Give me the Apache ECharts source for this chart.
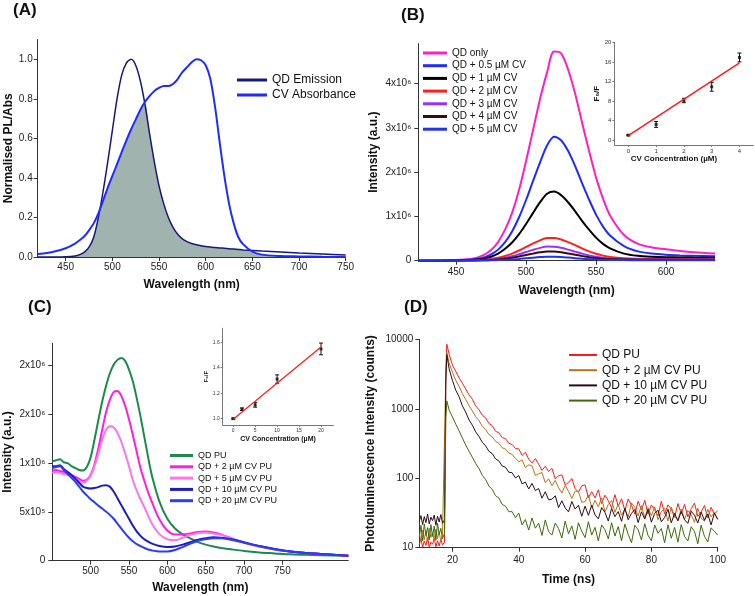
<!DOCTYPE html>
<html>
<head>
<meta charset="utf-8">
<title>QD / CV quenching</title>
<script src="https://cdn.jsdelivr.net/npm/echarts@6/dist/echarts.min.js"></script>
<style>
  html, body { margin: 0; padding: 0; background: #fff; }
  #chart { width: 755px; height: 596px; }
</style>
</head>
<body>
<div id="chart"></div>
<script>
const FONT = "'Liberation Sans', Arial, Helvetica, sans-serif";

// ---- (A) spectral overlap ----
const aWave = [420, 430, 440, 450, 460, 465, 470, 475, 480, 485, 490, 495, 500, 505, 510, 515, 520, 525, 530, 535,
  540, 545, 550, 555, 560, 565, 570, 575, 580, 585, 590, 595, 600, 605, 610, 615, 620, 625, 630, 635,
  640, 650, 660, 680, 700, 725, 750];
const aQdEmission = [0, 0, 0, 0.001, 0.005, 0.012, 0.025, 0.05, 0.1, 0.2, 0.33, 0.48, 0.64, 0.8, 0.92, 0.98, 1.0, 0.97, 0.89, 0.77,
  0.62, 0.48, 0.36, 0.27, 0.2, 0.15, 0.115, 0.092, 0.078, 0.068, 0.062, 0.057, 0.053, 0.05, 0.048, 0.046, 0.044, 0.042, 0.04, 0.038,
  0.036, 0.033, 0.03, 0.025, 0.02, 0.015, 0.01];
const aCvAbsorbance = [0.015, 0.02, 0.03, 0.044, 0.068, 0.085, 0.105, 0.135, 0.17, 0.22, 0.285, 0.35, 0.41, 0.47, 0.53, 0.59, 0.645, 0.695, 0.745, 0.785,
  0.815, 0.84, 0.855, 0.865, 0.865, 0.875, 0.9, 0.935, 0.96, 0.985, 1.0, 0.995, 0.97, 0.9, 0.76, 0.58, 0.41, 0.27, 0.17, 0.1,
  0.065, 0.027, 0.012, 0.005, 0.003, 0.001, 0];
const aTicksX = [450, 500, 550, 600, 650, 700, 750];
const aTicksY = [0, 0.2, 0.4, 0.6, 0.8, 1.0];

// ---- (B) PL titration in solution (values in 10^6) ----
const bWave = [423, 440, 450, 460, 465, 470, 475, 480, 485, 490, 495, 500, 505, 510, 515, 520, 525, 530, 535, 540,
  545, 550, 555, 560, 570, 580, 590, 600, 610, 620, 635];
const bNames = ['QD only', 'QD + 0.5 µM CV', 'QD + 1 µM CV', 'QD + 2 µM CV', 'QD + 3 µM CV', 'QD + 4 µM CV', 'QD + 5 µM CV'];
const bQdOnly = [0, 0.005, 0.015, 0.04, 0.07, 0.13, 0.24, 0.42, 0.7, 1.08, 1.6, 2.25, 2.95, 3.65, 4.25, 4.72, 4.68, 4.32, 3.78, 3.12,
  2.48, 1.88, 1.4, 1.02, 0.58, 0.38, 0.3, 0.26, 0.22, 0.19, 0.16];
const bCv05 = [0, 0.003, 0.008, 0.022, 0.04, 0.075, 0.14, 0.25, 0.42, 0.66, 0.98, 1.37, 1.8, 2.22, 2.6, 2.8, 2.72, 2.48, 2.14, 1.75,
  1.38, 1.04, 0.77, 0.57, 0.33, 0.21, 0.16, 0.135, 0.12, 0.11, 0.1];
const bCv1 = [0, 0.002, 0.005, 0.014, 0.025, 0.047, 0.09, 0.16, 0.27, 0.41, 0.6, 0.83, 1.08, 1.32, 1.51, 1.56, 1.48, 1.32, 1.12, 0.9,
  0.7, 0.52, 0.38, 0.28, 0.16, 0.11, 0.09, 0.08, 0.075, 0.07, 0.065];
const bCv2 = [0, 0.001, 0.002, 0.006, 0.011, 0.02, 0.038, 0.065, 0.105, 0.16, 0.23, 0.31, 0.39, 0.46, 0.51, 0.515, 0.48, 0.42, 0.35, 0.28,
  0.21, 0.155, 0.115, 0.085, 0.055, 0.045, 0.04, 0.038, 0.036, 0.035, 0.034];
const bCv3 = [0, 0.001, 0.002, 0.005, 0.008, 0.014, 0.025, 0.043, 0.068, 0.1, 0.145, 0.195, 0.245, 0.29, 0.318, 0.315, 0.29, 0.25, 0.205, 0.16,
  0.12, 0.088, 0.065, 0.05, 0.035, 0.03, 0.027, 0.025, 0.024, 0.023, 0.022];
const bCv4 = [0, 0.001, 0.002, 0.004, 0.006, 0.01, 0.017, 0.029, 0.045, 0.066, 0.095, 0.128, 0.16, 0.19, 0.208, 0.206, 0.19, 0.165, 0.136, 0.107,
  0.08, 0.06, 0.045, 0.036, 0.027, 0.024, 0.022, 0.021, 0.02, 0.02, 0.019];
const bCv5 = [0, 0, 0.001, 0.002, 0.003, 0.005, 0.008, 0.013, 0.02, 0.029, 0.041, 0.055, 0.069, 0.081, 0.089, 0.088, 0.081, 0.07, 0.058, 0.046,
  0.035, 0.027, 0.021, 0.017, 0.013, 0.012, 0.011, 0.01, 0.01, 0.01, 0.01];
const bTicksX = [450, 500, 550, 600];
const bTicksY = [0, 1, 2, 3, 4];
// Stern-Volmer inset
const bConc = [0, 1, 2, 3, 4];
const bF0F = [1, 3.2, 8.1, 10.9, 16.9];
const bErr = [0.1, 0.6, 0.45, 0.9, 0.9];
const bFitX = [0, 4];
const bFitY = [0.9, 15.8];
const bInsetTicksX = [0, 1, 2, 3, 4];
const bInsetTicksY = [0, 4, 8, 12, 16, 20];

// ---- (C) PL of QD in PU films (values in 10^6) ----
const cWave = [450, 455, 460, 465, 470, 475, 480, 485, 490, 495, 500, 505, 510, 515, 520, 525, 530, 535, 540, 545,
  550, 555, 560, 565, 570, 575, 580, 590, 600, 610, 620, 630, 640, 650, 660, 670, 680, 700, 720, 740,
  760, 780, 800, 836];
const cNames = ['QD PU', 'QD + 2 µM CV PU', 'QD + 5 µM CV PU', 'QD + 10 µM CV PU', 'QD + 20 µM CV PU'];
const cQdPu = [1.02, 1.03, 1.04, 1.01, 1.0, 0.97, 0.95, 0.93, 0.925, 0.96, 1.06, 1.24, 1.44, 1.63, 1.79, 1.92, 2.01, 2.06, 2.08, 2.05,
  1.96, 1.84, 1.67, 1.48, 1.27, 1.06, 0.87, 0.6, 0.43, 0.33, 0.27, 0.23, 0.19, 0.165, 0.145, 0.13, 0.12, 0.1, 0.085, 0.075,
  0.065, 0.06, 0.055, 0.05];
const cCv2 = [0.92, 0.93, 0.92, 0.91, 0.9, 0.88, 0.86, 0.84, 0.82, 0.83, 0.88, 0.99, 1.15, 1.34, 1.52, 1.65, 1.73, 1.74, 1.69, 1.59,
  1.45, 1.29, 1.12, 0.95, 0.82, 0.7, 0.6, 0.42, 0.31, 0.27, 0.27, 0.28, 0.295, 0.3, 0.29, 0.27, 0.24, 0.185, 0.145, 0.115,
  0.095, 0.08, 0.07, 0.05];
const cCv5 = [0.9, 0.91, 0.9, 0.89, 0.88, 0.86, 0.84, 0.82, 0.8, 0.82, 0.87, 0.97, 1.1, 1.24, 1.34, 1.38, 1.37, 1.31, 1.22, 1.1,
  0.97, 0.83, 0.72, 0.63, 0.55, 0.46, 0.38, 0.27, 0.22, 0.21, 0.235, 0.265, 0.285, 0.29, 0.28, 0.265, 0.24, 0.185, 0.145, 0.115,
  0.095, 0.08, 0.07, 0.05];
const cCv10 = [0.97, 0.97, 0.98, 0.94, 0.91, 0.88, 0.84, 0.8, 0.76, 0.745, 0.74, 0.745, 0.755, 0.77, 0.775, 0.76, 0.71, 0.64, 0.57, 0.5,
  0.43, 0.36, 0.3, 0.255, 0.22, 0.195, 0.175, 0.15, 0.14, 0.145, 0.165, 0.19, 0.215, 0.23, 0.24, 0.235, 0.225, 0.19, 0.15, 0.12,
  0.095, 0.08, 0.07, 0.05];
const cCv20 = [0.95, 0.96, 0.97, 0.93, 0.89, 0.85, 0.81, 0.76, 0.71, 0.67, 0.63, 0.6, 0.565, 0.535, 0.505, 0.47, 0.43, 0.38, 0.33, 0.28,
  0.235, 0.2, 0.17, 0.15, 0.13, 0.115, 0.105, 0.095, 0.095, 0.11, 0.14, 0.175, 0.205, 0.22, 0.23, 0.23, 0.22, 0.185, 0.148, 0.118,
  0.095, 0.08, 0.068, 0.05];
const cTicksX = [500, 550, 600, 650, 700, 750];
const cTicksY = [0, 0.5, 1, 1.5, 2];
const cTickLabels = ['0', '5x10⁵', '1x10⁶', '2x10⁶', '2x10⁶'];
// Stern-Volmer inset
const cConc = [0, 2, 5, 10, 20];
const cF0F = [1.0, 1.074, 1.108, 1.311, 1.548];
const cErr = [0.005, 0.01, 0.018, 0.033, 0.046];
const cFitX = [0, 20];
const cFitY = [0.995, 1.563];
const cInsetTicksX = [0, 5, 10, 15, 20];
const cInsetTicksY = [1.0, 1.2, 1.4, 1.6];

// ---- (D) PL decay (counts) ----
const dTime = [10, 10.5, 11, 11.5, 12, 12.5, 13, 13.5, 14, 14.5, 15, 15.5, 16, 16.5, 17, 17.6, 18, 18.3,
  19, 20, 21, 22, 23, 24, 25, 26, 27, 28,
  29, 30, 31, 32, 33, 34, 35, 36, 37, 38,
  39, 40, 41, 42, 43, 44, 45, 46, 47, 48,
  49, 50, 51, 52, 53, 54, 55, 56, 57, 58,
  59, 60, 61, 62, 63, 64, 65, 66, 67, 68,
  69, 70, 71, 72, 73, 74, 75, 76, 77, 78,
  79, 80, 81, 82, 83, 84, 85, 86, 87, 88,
  89, 90, 91, 92, 93, 94, 95, 96, 97, 98,
  99, 100];
const dNames = ['QD PU', 'QD + 2 µM CV PU', 'QD + 10 µM CV PU', 'QD + 20 µM CV PU'];
const dQdPu = [11, 13.5, 10.2, 12.5, 10.8, 14, 10.1, 12, 11.2, 13.8, 10.3, 12.6, 10.6, 13.2, 11, 12, 3500, 8500,
  6100, 4250, 3450, 2780, 2330, 1920, 1590, 1370, 1100, 970,
  810, 740, 615, 570, 475, 450, 385, 372, 318, 306,
  268, 265, 213, 237, 188, 166, 192, 159, 130, 149,
  125, 139, 98, 108, 112, 80, 87, 99, 71, 63,
  78, 80, 52, 64, 52, 68, 43, 57, 47.5, 37.5,
  58, 39.6, 50.6, 34.4, 50.4, 41, 30.4, 46.6, 35.1, 48.1,
  30.4, 41.3, 35.2, 28.7, 46.7, 30.8, 41.4, 35.8, 27.4, 43.2,
  31, 42, 27.8, 36.4, 43.9, 28.3, 32.7, 40.5, 26.7, 38.2,
  30.6, 34];
const dCv2 = [16, 12.5, 18, 13, 17.5, 12, 19, 14, 16.5, 12.8, 18.5, 13.5, 17, 12.2, 15.5, 15, 3000, 6500,
  4550, 3350, 2560, 2100, 1650, 1360, 1110, 930, 770, 675,
  560, 505, 425, 395, 340, 318, 275, 262, 230, 221,
  192, 172, 184, 142, 156, 151, 110, 116, 121, 86,
  98, 78, 93, 73, 61, 79, 65, 51, 65, 65,
  45, 46, 57.6, 37.7, 48, 38.7, 52, 32.8, 42, 47.6,
  32.3, 42.6, 29.2, 36, 27.7, 44.1, 38, 28.6, 40.2, 27.1,
  37.4, 28.8, 38.8, 25.3, 33, 36.8, 24.2, 38.5, 28.2, 25.2,
  36.2, 25.5, 34.4, 29.8, 23.2, 37, 26.6, 24.1, 35.7, 27.7,
  32, 25.5];
const dCv10 = [24, 29, 21.5, 28, 23, 30.5, 22, 27.5, 24.5, 29.5, 21, 28.5, 23.5, 30, 22.5, 25, 2500, 6000,
  3750, 2550, 1850, 1490, 1100, 895, 690, 580, 465, 400,
  330, 292, 244, 226, 190, 178, 150, 144, 122, 120,
  101, 109, 83, 88, 70, 84, 66.5, 71, 51.6, 64,
  48.8, 50, 56, 37.8, 47.3, 37.4, 32.8, 46.2, 36, 40.9,
  28.4, 39.7, 29.2, 40.9, 29.7, 26, 37.8, 32.1, 24.2, 36.8,
  28, 33.1, 24, 37.1, 25.3, 31.2, 35.5, 23, 32.9, 25.8,
  35.6, 23.3, 31.3, 34.7, 23.6, 27.3, 35.8, 22.8, 31.2, 24.3,
  33.3, 25.3, 22.4, 33.5, 29.2, 22.7, 32.6, 24.8, 30.7, 21.3,
  31.3, 25.7];
const dCv20 = [14, 21, 12.5, 22, 15, 19.5, 13, 21.5, 14.5, 20.5, 12.8, 22.5, 15.5, 19, 13.5, 16, 700, 1300,
  960, 760, 600, 480, 380, 300, 245, 200, 163, 138,
  110, 96, 77, 69, 56, 52, 42, 39.5, 33, 33,
  27, 31.6, 21.2, 25.5, 17.9, 26.8, 19.1, 22.6, 15, 25.1,
  17, 15.2, 22.7, 18.8, 13.8, 24.2, 15.9, 20.6, 13.2, 22.8,
  17.2, 14, 23.7, 15.2, 19.6, 12.5, 21.3, 18.1, 13.4, 22.9,
  14.7, 20.1, 12.6, 21.9, 15.6, 11.8, 21, 18.1, 12.9, 22.2,
  15, 12.6, 21.2, 16.1, 18.9, 11.8, 21.4, 13.7, 19.6, 12,
  21.5, 14.5, 12.5, 20, 17.2, 11.4, 21.1, 14.6, 12.1, 19.3,
  17.3, 15.2];
const dTicksX = [20, 40, 60, 80, 100];

// colours
const aColors = ['#16187a', '#1f2cff'];
const bColors = ['#ff1fc4', '#1f2bff', '#000000', '#ff1f1f', '#9a30ff', '#3b0c0c', '#2233ee'];
const cColors = ['#1b8a4c', '#ff1ee0', '#ff72f0', '#1c1cc0', '#2a3cff'];
const dColors = ['#ff1a1a', '#b8731a', '#2e0b16', '#3f6a0c'];

function pairs(xs, ys) {
  return xs.map((x, i) => [x, ys[i]]);
}

function valueAxis(o) {
  const c = o.color || '#333';
  return {
    type: o.type || 'value', gridIndex: o.grid, min: o.min, max: o.max,
    logBase: o.logBase,
    axisLine: { show: true, onZero: false, lineStyle: { color: c, width: 1 } },
    axisTick: { show: true, length: o.tick || 4, customValues: o.ticks, lineStyle: { color: c } },
    axisLabel: {
      customValues: o.ticks, fontSize: o.size || 10, color: o.labelColor || '#222', fontFamily: FONT,
      margin: o.margin || 5, formatter: o.fmt
    },
    splitLine: { show: false },
    name: o.name, nameLocation: 'middle', nameGap: o.nameGap,
    nameTextStyle: { fontSize: o.nameSize || 12, fontWeight: 'bold', color: '#111', fontFamily: FONT, padding: o.namePad || 0 }
  };
}

function line(name, xIdx, xs, ys, color, width, smooth) {
  return {
    type: 'line', name: name, xAxisIndex: xIdx, yAxisIndex: xIdx,
    data: pairs(xs, ys), showSymbol: false, smooth: smooth,
    lineStyle: { color: color, width: width }, itemStyle: { color: color },
    emphasis: { disabled: true }
  };
}

function errorBars(idx, xs, ys, err) {
  return {
    type: 'custom', xAxisIndex: idx, yAxisIndex: idx,
    data: xs.map((x, i) => [x, ys[i] - err[i], ys[i] + err[i]]),
    encode: { x: 0, y: [1, 2] },
    renderItem: function (params, api) {
      const lo = api.coord([api.value(0), api.value(1)]);
      const hi = api.coord([api.value(0), api.value(2)]);
      const st = { stroke: '#111', lineWidth: 1 };
      return {
        type: 'group', children: [
          { type: 'line', shape: { x1: lo[0], y1: lo[1], x2: hi[0], y2: hi[1] }, style: st },
          { type: 'line', shape: { x1: lo[0] - 2, y1: lo[1], x2: lo[0] + 2, y2: lo[1] }, style: st },
          { type: 'line', shape: { x1: hi[0] - 2, y1: hi[1], x2: hi[0] + 2, y2: hi[1] }, style: st }
        ]
      };
    }
  };
}

function points(idx, xs, ys) {
  return {
    type: 'scatter', xAxisIndex: idx, yAxisIndex: idx, data: pairs(xs, ys),
    symbol: 'rect', symbolSize: 3, itemStyle: { color: '#111' }
  };
}

function legendBlock(names, colors, left, top, size, gap, w, h) {
  return {
    orient: 'vertical', left: left, top: top, padding: 0, itemGap: gap,
    itemWidth: w, itemHeight: h, icon: 'rect', selectedMode: false,
    textStyle: { fontSize: size, color: '#111', fontFamily: FONT },
    data: names.map((n, i) => ({ name: n, itemStyle: { color: colors[i] } }))
  };
}

// shaded spectral overlap = lower of the two curves
const overlap = aWave.map((w, i) => [w, Math.min(aQdEmission[i], aCvAbsorbance[i])]);

const series = [
  {
    type: 'line', name: 'overlap', xAxisIndex: 0, yAxisIndex: 0, data: overlap, showSymbol: false, smooth: 0.3,
    lineStyle: { width: 0 }, areaStyle: { color: '#a1b3ae', opacity: 1 }, itemStyle: { color: '#a1b3ae' }
  },
  line('QD Emission', 0, aWave, aQdEmission, aColors[0], 1.5, 0.3),
  line('CV Absorbance', 0, aWave, aCvAbsorbance, aColors[1], 2, 0.3)
];
[bQdOnly, bCv05, bCv1, bCv2, bCv3, bCv4, bCv5].forEach((ys, i) => {
  series.push(line(bNames[i], 1, bWave, ys, bColors[i], 2, 0.3));
});
series.push(line('fitB', 2, bFitX, bFitY, '#ff1a1a', 1.5, false));
series.push(errorBars(2, bConc, bF0F, bErr));
series.push(points(2, bConc, bF0F));
[cQdPu, cCv2, cCv5, cCv10, cCv20].forEach((ys, i) => {
  series.push(line(cNames[i], 3, cWave, ys, cColors[i], 2, 0.3));
});
series.push(line('fitC', 4, cFitX, cFitY, '#ff1a1a', 1.2, false));
series.push(errorBars(4, cConc, cF0F, cErr));
series.push(points(4, cConc, cF0F));
[dQdPu, dCv2, dCv10, dCv20].forEach((ys, i) => {
  series.push(line(dNames[i], 5, dTime, ys, dColors[i], 1, false));
});

const chart = echarts.init(document.getElementById('chart'));
chart.setOption({
  animation: false,
  backgroundColor: '#fff',
  textStyle: { fontFamily: FONT },
  grid: [
    { left: 37.7, top: 39.5, width: 308, height: 217.5 },
    { left: 418.3, top: 43.6, width: 296.7, height: 217.1 },
    { left: 614.4, top: 42.3, width: 139, height: 102.7 },
    { left: 52.3, top: 343.3, width: 296, height: 217.4 },
    { left: 222.7, top: 328.3, width: 110.6, height: 96.7 },
    { left: 419.3, top: 339.3, width: 298.4, height: 208.4 }
  ],
  xAxis: [
    valueAxis({ grid: 0, min: 420, max: 750, ticks: aTicksX, name: 'Wavelength (nm)', nameGap: 22 }),
    valueAxis({ grid: 1, min: 423, max: 635, ticks: bTicksX, margin: 7, name: 'Wavelength (nm)', nameGap: 24 }),
    valueAxis({ grid: 2, min: -0.5, max: 4.5, ticks: bInsetTicksX, size: 6, tick: 2, margin: 3, color: '#777', labelColor: '#333',
      name: 'CV Concentration (µM)', nameSize: 8, nameGap: 10, namePad: [0, 20, 0, 0] }),
    valueAxis({ grid: 3, min: 450, max: 836, ticks: cTicksX, margin: 6, name: 'Wavelength (nm)', nameGap: 21 }),
    valueAxis({ grid: 4, min: -2.4, max: 22.8, ticks: cInsetTicksX, size: 5, tick: 2, margin: 3, color: '#777', labelColor: '#333',
      name: 'CV Concentration (µM)', nameSize: 7, nameGap: 11 }),
    valueAxis({ grid: 5, min: 10, max: 100, ticks: dTicksX, margin: 8, name: 'Time (ns)', nameGap: 26 })
  ],
  yAxis: [
    valueAxis({ grid: 0, min: 0, max: 1.1, ticks: aTicksY, fmt: v => v.toFixed(1), name: 'Normalised PL/Abs', nameGap: 23 }),
    valueAxis({ grid: 1, min: 0, max: 4.9, ticks: bTicksY, margin: 7, fmt: v => (v === 0 ? '0' : v + 'x10⁶'),
      name: 'Intensity (a.u.)', nameGap: 39 }),
    valueAxis({ grid: 2, min: -1, max: 20, ticks: bInsetTicksY, size: 6, tick: 2, margin: 3, color: '#777', labelColor: '#333',
      name: 'F₀/F', nameSize: 8, nameGap: 12 }),
    valueAxis({ grid: 3, min: 0, max: 2.23, ticks: cTicksY, margin: 7, fmt: v => cTickLabels[Math.round(v / 0.5)],
      name: 'Intensity (a.u.)', nameGap: 39 }),
    valueAxis({ grid: 4, min: 0.95, max: 1.71, ticks: cInsetTicksY, size: 5, tick: 2, margin: 3, color: '#777', labelColor: '#333',
      fmt: v => v.toFixed(1), name: 'F₀/F', nameSize: 6, nameGap: 12 }),
    valueAxis({ grid: 5, type: 'log', logBase: 10, min: 10, max: 10000, margin: 6, fmt: v => String(v),
      name: 'Photoluminescence Intensity (counts)', nameGap: 43 })
  ],
  legend: [
    legendBlock(['QD Emission', 'CV Absorbance'], aColors, 237, 74, 12, 3, 30, 3),
    legendBlock(bNames, bColors, 423, 48, 10, 2.7, 24, 3),
    legendBlock(cNames, cColors, 170, 451, 9, 2.3, 23, 3),
    legendBlock(dNames, dColors, 569, 349, 12, 3.2, 28, 2)
  ],
  graphic: [
    { type: 'text', left: 13, top: 2, style: { text: '(A)', font: 'bold 17px ' + FONT, fill: '#111' } },
    { type: 'text', left: 401, top: 7, style: { text: '(B)', font: 'bold 17px ' + FONT, fill: '#111' } },
    { type: 'text', left: 28, top: 299, style: { text: '(C)', font: 'bold 17px ' + FONT, fill: '#111' } },
    { type: 'text', left: 404, top: 299, style: { text: '(D)', font: 'bold 17px ' + FONT, fill: '#111' } }
  ],
  series: series
});
</script>
</body>
</html>
